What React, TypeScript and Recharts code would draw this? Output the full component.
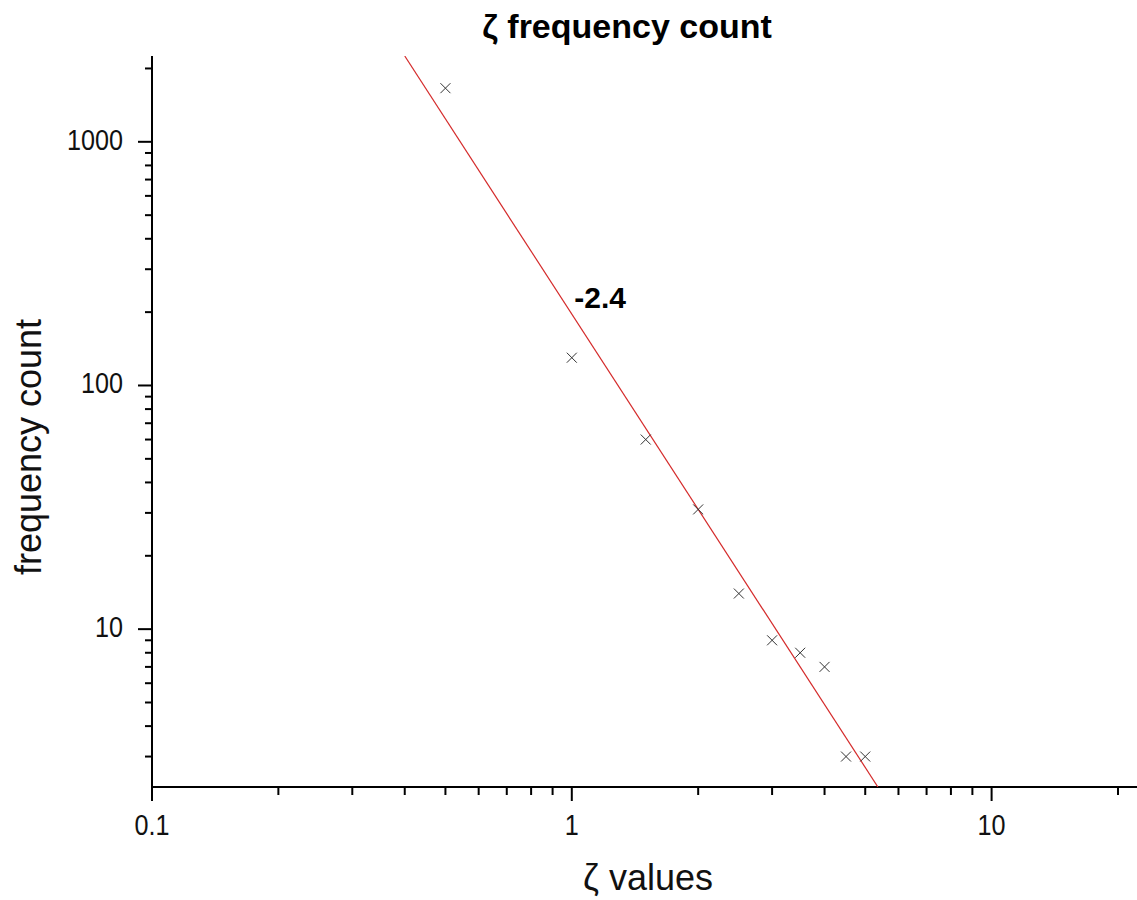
import React from 'react';
import { ScatterChart, Scatter, XAxis, YAxis, ReferenceDot } from 'recharts';

// ζ values (x) and frequency counts (y)
const zetaValues = [0.5, 1, 1.5, 2, 2.5, 3, 3.5, 4, 4.5, 5];
const frequencyCounts = [1660, 130, 60, 31, 14, 9, 8, 7, 3, 3];

// fitted power-law line endpoints (slope label -2.4)
const fitX = [0.4, 5.36];
const fitY = [2250, 2.25];

const xDomain = [0.1, 22.2];
const yDomain = [2.25, 2250];

const xMajorTicks = [0.1, 1, 10];
const xMajorLabels = ['0.1', '1', '10'];
const xMinorTicks = [0.2, 0.3, 0.4, 0.5, 0.6, 0.7, 0.8, 0.9, 2, 3, 4, 5, 6, 7, 8, 9, 20];

const yMajorTicks = [10, 100, 1000];
const yMajorLabels = ['10', '100', '1000'];
const yMinorTicks = [3, 4, 5, 6, 7, 8, 9, 20, 30, 40, 50, 60, 70, 80, 90, 200, 300, 400, 500, 600, 700, 800, 900, 2000];

const slopeLabel = '-2.4';
const slopePos = { x: 1.168, y: 208 };

const points = zetaValues.map((x, i) => ({ x, y: frequencyCounts[i] }));
const fitLine = fitX.map((x, i) => ({ x, y: fitY[i] }));

const FONT = '"Liberation Sans", Arial, sans-serif';

const XTick = (props: any) => {
  const { x, y, payload } = props;
  const v = payload.value;
  const idx = xMajorTicks.indexOf(v);
  const major = idx >= 0;
  return (
    <g>
      <line x1={x} x2={x} y1={y} y2={y + (major ? 14 : 8)} stroke="#000" strokeWidth={2} />
      {major && (
        <g transform={`translate(${x},${y + 48}) scale(0.84,1)`}>
          <text x={0} y={0} textAnchor="middle" fontSize={30} fontFamily={FONT} fill="#111">
            {xMajorLabels[idx]}
          </text>
        </g>
      )}
    </g>
  );
};

const YTick = (props: any) => {
  const { x, y, payload } = props;
  const v = payload.value;
  const idx = yMajorTicks.indexOf(v);
  const major = idx >= 0;
  return (
    <g>
      <line x1={x} x2={x - (major ? 14 : 7)} y1={y} y2={y} stroke="#000" strokeWidth={2} />
      {major && (
        <g transform={`translate(${x - 29},${y + 8}) scale(0.84,1)`}>
          <text x={0} y={0} textAnchor="end" fontSize={30} fontFamily={FONT} fill="#111">
            {yMajorLabels[idx]}
          </text>
        </g>
      )}
    </g>
  );
};

const Cross = (props: any) => {
  const { cx, cy } = props;
  const s = 5;
  return (
    <path
      d={`M${cx - s},${cy - s}L${cx + s},${cy + s}M${cx - s},${cy + s}L${cx + s},${cy - s}`}
      stroke="#333"
      strokeWidth={1}
      fill="none"
    />
  );
};

const SlopeText = (props: any) => {
  const { cx, cy } = props;
  return (
    <text x={cx} y={cy} textAnchor="middle" fontSize={30} fontWeight="bold" fontFamily={FONT} fill="#000">
      {slopeLabel}
    </text>
  );
};

export default function App() {
  return (
    <div style={{ position: 'absolute', left: 0, top: 0, width: 1137, height: 900, background: '#fff' }}>
      <ScatterChart width={1137} height={900} margin={{ top: 56, right: 0, left: 92, bottom: 83 }}>
        <XAxis
          type="number"
          dataKey="x"
          scale="log"
          domain={xDomain}
          allowDataOverflow
          ticks={[...xMajorTicks, ...xMinorTicks]}
          interval={0}
          tick={<XTick />}
          tickLine={false}
          tickSize={0}
          tickMargin={0}
          height={30}
          axisLine={{ stroke: '#000', strokeWidth: 2 }}
        />
        <YAxis
          type="number"
          dataKey="y"
          scale="log"
          domain={yDomain}
          allowDataOverflow
          ticks={[...yMajorTicks, ...yMinorTicks]}
          interval={0}
          tick={<YTick />}
          tickLine={false}
          tickSize={0}
          tickMargin={0}
          width={60}
          axisLine={{ stroke: '#000', strokeWidth: 2 }}
        />
        <Scatter
          data={fitLine}
          line={{ stroke: '#d42a2a', strokeWidth: 1.2 }}
          shape={() => null}
          isAnimationActive={false}
        />
        <Scatter data={points} shape={<Cross />} isAnimationActive={false} />
        <ReferenceDot x={slopePos.x} y={slopePos.y} r={0} shape={<SlopeText />} />
      </ScatterChart>
      <svg width={1137} height={900} style={{ position: 'absolute', left: 0, top: 0, pointerEvents: 'none' }}>
        <text x={627} y={38} textAnchor="middle" fontSize={34} fontWeight="bold" fontFamily={FONT} fill="#000">
          ζ frequency count
        </text>
        <text
          transform="translate(41,447) rotate(-90)"
          textAnchor="middle"
          fontSize={36}
          fontFamily={FONT}
          fill="#111"
        >
          frequency count
        </text>
        <text x={648} y={890} textAnchor="middle" fontSize={36} fontFamily={FONT} fill="#111">
          ζ values
        </text>
      </svg>
    </div>
  );
}
